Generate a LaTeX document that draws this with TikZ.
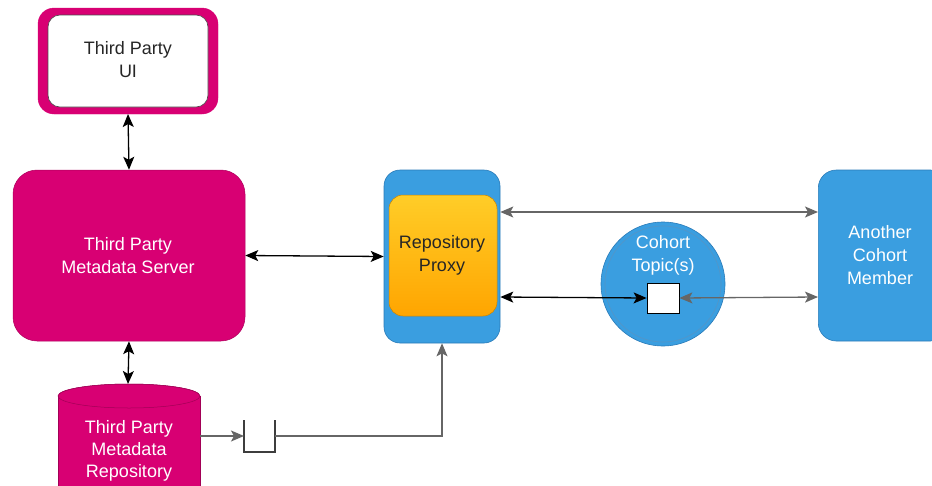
\documentclass[tikz,border=0pt]{standalone}
\usepackage{fontspec}
\setmainfont{Liberation Sans}
\usetikzlibrary{arrows.meta,shapes.geometric,positioning}
\definecolor{tpink}{HTML}{D80073}
\definecolor{tblue}{HTML}{3A9EE0}
\definecolor{tblueline}{HTML}{2A7BB8}
\definecolor{tgold}{HTML}{FFCD28}
\definecolor{torange}{HTML}{FFA500}
\definecolor{tgrey}{HTML}{666666}
\tikzset{
  x=1pt, y=-1pt,
  lbl/.style={font=\fontsize{18}{23}\selectfont, align=center, inner sep=0pt},
  tip/.tip={Stealth[length=13pt,width=11pt,inset=3pt]},
  link/.style={line width=1.3pt, tip-tip},
  onearrow/.style={line width=1.3pt, -tip},
  greylink/.style={link, draw=tgrey},
}
\begin{document}
\begin{tikzpicture}
\useasboundingbox (0,0) rectangle (932,485);
\clip (0,0) rectangle (932,485);

% Third Party UI: thick pink frame around a white panel
\draw[tpink, fill=tpink, rounded corners=16pt] (38,8) rectangle (218,114);
\node[draw=black!70, line width=0.6pt, fill=white, rounded corners=12pt,
      minimum width=160pt, minimum height=92pt, anchor=center] (ui) at (128,61) {};
\node[lbl, text=black!85] (uitxt) at (128,60) {Third Party\\UI};
\coordinate (uib) at (128,114);

% Metadata server
\node[fill=tpink, draw=tpink!80!black, line width=0.5pt, rounded corners=24pt,
      minimum width=232pt, minimum height=171pt] (srv) at (129,255.5) {};
\node[lbl, text=white] (srvtxt) at (128,256) {Third Party\\Metadata Server};

% Metadata repository (cylinder)
\fill[tpink] (58,396) -- (58,500) -- (200,500) -- (200,396) -- cycle;
\fill[tpink] (129,396) ellipse (71pt and 12pt);
\draw[tpink!75!black, line width=0.5pt] (58,396) arc[start angle=180, end angle=360, x radius=71pt, y radius=-12pt];
\draw[tpink!75!black, line width=0.5pt] (58,396) -- (58,500) (200,396) -- (200,500);
\draw[tpink!75!black, line width=0.5pt] (129,396) ellipse (71pt and 12pt);
\node[lbl, text=white, font=\fontsize{18}{22}\selectfont] (repo) at (129,451) {Third Party\\Metadata\\Repository};
\coordinate (repotop) at (128,384);
\coordinate (reporight) at (200,436);

% Input port on the repository feed
\draw[tgrey!60!black, line width=1.3pt] (244,420) -- (244,452) -- (275,452) -- (275,420);
\coordinate (portin) at (244,436);
\coordinate (portout) at (275,436);

% Repository proxy
\node[fill=tblue, draw=tblueline, line width=0.6pt, rounded corners=16pt,
      minimum width=116pt, minimum height=173pt] (proxy) at (442,256.5) {};
\shade[top color=tgold, bottom color=torange, draw=torange!80!black, line width=0.5pt,
       rounded corners=14pt] (389,195) rectangle (497,316);
\node[lbl, text=black!85] (proxytxt) at (442,255) {Repository\\Proxy};

% Another cohort member
\node[fill=tblue, draw=tblueline, line width=0.6pt, rounded corners=18pt,
      minimum width=130pt, minimum height=171pt, anchor=west] (member) at (818,255.5) {};
\node[lbl, text=white] (membertxt) at (880,255) {Another\\Cohort\\Member};

% Cohort topic(s)
\node[circle, fill=tblue, draw=tblueline, line width=0.6pt, minimum size=124pt] (topic) at (663,284) {};
\draw[tblueline!80!white, line width=0.6pt] (topic.center) circle (58pt);
\node[lbl, text=white] (topictxt) at (663,255) {Cohort\\Topic(s)};
\node[draw=black, fill=white, line width=0.8pt, minimum width=32pt, minimum height=30pt,
      inner sep=0pt] (sq) at (663,298) {};

% Connectors
\draw[link] (uib) -- (srv.north);
\draw[link] (srv.south) -- (repotop);
\draw[link] (srv.east) -- (proxy.west);
\draw[onearrow, draw=tgrey] (reporight) -- (portin);
\draw[onearrow, draw=tgrey] (portout) -| (proxy.south);
\draw[greylink] (proxy.east |- 0,212) -- (member.west |- 0,212);
\draw[link] (proxy.east |- 0,297) -- (sq.west);
\draw[greylink] (sq.east) -- (member.west |- 0,297);
\end{tikzpicture}
\end{document}
